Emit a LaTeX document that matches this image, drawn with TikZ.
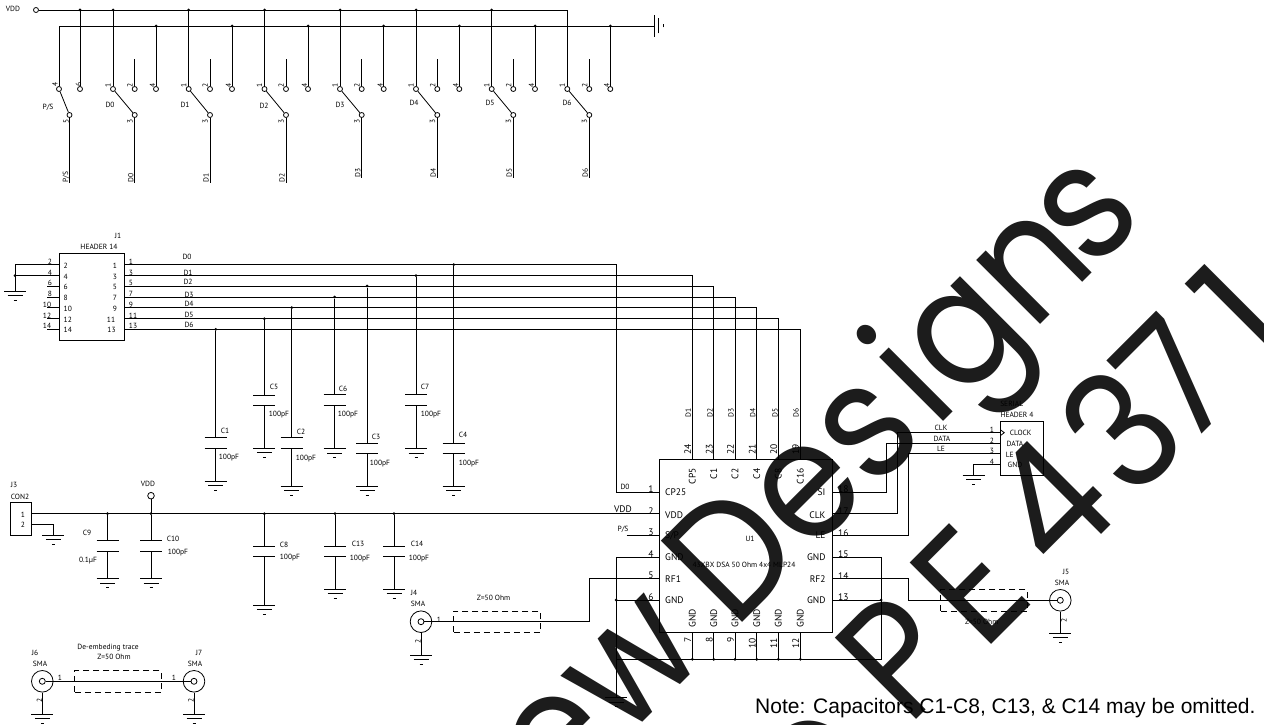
\documentclass[tikz,border=0pt]{standalone}
\usepackage{fontspec}
\setmainfont{PT Sans}
\newfontfamily\notefont{Liberation Sans}
\newfontfamily\markfont[FakeStretch=0.9]{Poppins}
\definecolor{markgray}{RGB}{28,28,28}
\tikzset{
  wire/.style={line width=0.8pt},
  pad/.style={circle, draw, line width=0.8pt, fill=white, inner sep=0pt, minimum size=5pt},
  jdot/.style={circle, fill, inner sep=0pt, minimum size=3pt},
  smaring/.style={circle, draw, line width=0.8pt, inner sep=0pt, minimum size=21.6pt},
  partbox/.style={draw, line width=0.8pt, inner sep=0pt},
  tracebox/.style={draw, dashed, dash pattern=on 6pt off 4pt, line width=0.7pt, inner sep=0pt, minimum height=21.6pt, minimum width=86.5pt},
  lbl/.style={inner sep=0pt, font=\fontsize{7.5}{9}\selectfont},
  lblv/.style={lbl, rotate=90},
  pinlbl/.style={inner sep=0pt, font=\fontsize{9.5}{11}\selectfont},
  pinlblv/.style={pinlbl, rotate=90},
  bigmark/.style={inner sep=0pt, rotate=45, anchor=base west, text=markgray, font=\markfont\fontsize{165}{165}\selectfont},
  gndmark/.pic={
    \draw[wire] (-11,0) -- (11,0);
    \draw[wire] (-7.5,4.5) -- (7.5,4.5);
    \draw[wire] (-1.5,9) -- (1.5,9);
  }
}
\begin{document}
\begin{tikzpicture}[x=1pt, y=-1pt]
  \useasboundingbox (0,0) rectangle (1264,725);
  \begin{scope}
    \clip (0,0) rectangle (1264,725);
    \node[bigmark, anchor=base east] (mark1) at (710,655) {New};
    \node[bigmark] (mark2) at (734,631) {Des};
    \node[bigmark] (mark3) at (741,624) {\phantom{Des}ign};
    \node[bigmark] (mark4) at (734,631) {\phantom{Design}s};
    \node[bigmark, anchor=base] (mark5) at (846,798) {o};
    \foreach \t/\x/\y in {P/908.5/727.5, E/983.8/652.2, 4/1058.4/577.6, 3/1132.7/503.4, 7/1187.8/448.2, 1/1265.8/372.2}
      \node[bigmark] (part\t) at (\x,\y) {\t};
  \end{scope}

  % switches
  \node[lbl] (vddtop) at (13,9) {VDD};
  \node[pad] (vddin) at (36,10) {};
  \coordinate (vddend) at (567.3,10);
  \coordinate (gndstart) at (59,26);
  \coordinate (gndend) at (654,26);
  \draw[wire] (vddin) -- (vddend);
  \draw[wire] (gndstart) -- (gndend);
  \pic[rotate=90] at (gndend) {gndmark};

  \node[pad] (apsw) at (59,89) {};
  \node[pad] (bpsw) at (80,89) {};
  \node[pad] (tpsw) at (69.5,115) {};
  \coordinate (vpsw) at (80,10);
  \coordinate (epsw) at (69.5,183);
  \draw[wire] (apsw) -- (gndstart);
  \draw[wire] (bpsw) -- (vpsw);
  \draw[wire] (apsw) -- (tpsw);
  \draw[wire] (tpsw) -- (epsw);
  \node[jdot] (dpsw) at (vpsw) {};
  \node[lblv] (n4psw) at (55,84) {4};
  \node[lblv] (n6psw) at (78.5,84) {6};
  \node[lblv] (n5psw) at (66,121) {5};
  \node[lblv] (lpsw) at (66,177) {P/S};
  \node[lbl] (tpsl) at (48,107) {P/S};

  \foreach \n/\xa/\xb/\xc/\ye/\xl/\yl in {0/113/134.7/156/183/110/105,
      1/188.7/210/232/183/185/105, 2/264.5/286/308/183/264/106,
      3/340/361.7/383.7/178/340/105, 4/416/437.3/459.3/178/414/103,
      5/491.7/513.3/535/178/490/103, 6/567.3/589.3/610.3/178/567/103} {
    \node[pad] (a\n) at (\xa,89) {};
    \node[pad] (b\n) at (\xb,89) {};
    \node[pad] (k\n) at (\xc,89) {};
    \node[pad] (t\n) at (\xb,115) {};
    \coordinate (va\n) at (\xa,10);
    \coordinate (vb\n) at (\xb,59);
    \coordinate (vc\n) at (\xc,26);
    \coordinate (e\n) at (\xb,\ye);
    \draw[wire] (a\n) -- (va\n);
    \draw[wire] (b\n) -- (vb\n);
    \draw[wire] (k\n) -- (vc\n);
    \draw[wire] (a\n) -- (t\n);
    \draw[wire] (t\n) -- (e\n);
    \node[jdot] (dk\n) at (vc\n) {};
    \node[lblv] (na\n) at (\xa-5,85) {1};
    \node[lblv] (nb\n) at (\xb-4.7,85) {2};
    \node[lblv] (nc\n) at (\xc-3.5,85) {4};
    \node[lblv] (nt\n) at (\xb-4.7,121) {3};
    \node[lbl] (ls\n) at (\xl,\yl) {D\n};
    \node[lblv] (lb\n) at (\xb-4,\ye-5) {D\n};
  }
  \foreach \n in {0,...,5}
    \node[jdot] (dv\n) at (va\n) {};

  % header and rails
  \node[partbox, minimum width=65pt, minimum height=87pt] (j1) at (91.5,296.5) {};
  \node[lbl] (j1name) at (118,236) {J1};
  \node[lbl] (j1part) at (99,247) {HEADER 14};
  \foreach \n/\y/\xo in {2/264.7/50, 4/275.7/50, 6/286/50, 8/297/50, 10/307.7/47, 12/318.7/47, 14/329.3/47} {
    \coordinate (hl\n) at (59,\y);
    \coordinate (hs\n) at (47,\y);
    \draw[wire] (hl\n) -- (hs\n);
    \node[lbl] (hlo\n) at (\xo,\y-3) {\n};
    \node[lbl, anchor=west] (hli\n) at (63.5,\y+1) {\n};
  }
  \foreach \n/\y/\xi/\xo in {1/264.7/115/131, 3/275.7/115/131, 5/286/115/131, 7/297/115/131,
      9/307.7/115/131, 11/318.7/111/133, 13/329.3/111.5/133} {
    \coordinate (hr\n) at (124,\y);
    \node[lbl] (hro\n) at (\xo,\y-3) {\n};
    \node[lbl] (hri\n) at (\xi,\y+1) {\n};
  }
  \coordinate (hgtop) at (15,264.7);
  \coordinate (hgmid) at (15,275.7);
  \coordinate (hgnd) at (15,291);
  \draw[wire] (hs2) -- (hgtop) -- (hgnd);
  \draw[wire] (hs4) -- (hgmid);
  \node[jdot] (hgdot) at (hgmid) {};
  \pic at (hgnd) {gndmark};
  \foreach \t/\x/\y in {D0/187/257, D1/188/272.5, D2/188/282, D3/189/294.5, D4/189/304, D5/189/315, D6/189/325}
    \node[lbl] (r\t) at (\x,\y) {\t};

  % chip
  \node[partbox, minimum width=173.4pt, minimum height=173.4pt] (u1) at (746,546) {};
  \foreach \n/\y in {1/492, 2/513.7, 3/535.7, 4/557, 5/578.7, 6/600} {
    \coordinate (ul\n) at (659.3,\y);
    \node[pinlbl] (uln\n) at (651,\y-3) {\n};
  }
  \foreach \n/\y in {18/492, 17/513.7, 16/535.7, 15/557, 14/578.7, 13/600} {
    \coordinate (ur\n) at (832.7,\y);
    \node[pinlbl] (urn\n) at (843.3,\y-3) {\n};
  }
  \foreach \n/\x/\t in {24/692.3/CP5, 23/713.7/C1, 22/735/C2, 21/756.7/C4, 20/778.3/C8, 19/800.3/C16} {
    \coordinate (ut\n) at (\x,459.3);
    \node[pinlblv] (utn\n) at (\x-4.5,449) {\n};
    \node[pinlblv, anchor=east] (utl\n) at (\x,468.3) {\t};
  }
  \foreach \n/\x/\yn in {7/692.3/640, 8/713.7/640, 9/735/640, 10/756.7/643, 11/778.3/643, 12/800.3/643} {
    \coordinate (ub\n) at (\x,632.7);
    \coordinate (ug\n) at (\x,659.3);
    \draw[wire] (ub\n) -- (ug\n);
    \node[jdot] (ugd\n) at (ug\n) {};
    \node[pinlblv] (ubn\n) at (\x-4.5,\yn) {\n};
    \node[pinlblv] (ubl\n) at (\x,618) {GND};
  }
  \foreach \t/\y [count=\i] in {CP25/492.5, VDD/515, GND/557, RF1/579, GND/600}
    \node[pinlbl, anchor=west] (ulb\i) at (665,\y) {\t};
  \node[pinlbl, anchor=west] (ulbsp) at (665,535.5) {S/P};
  \foreach \t/\y [count=\i] in {SI/492.5, CLK/515, LE/535.5, GND/557, RF2/579, GND/600}
    \node[pinlbl, anchor=east] (urb\i) at (825.7,\y) {\t};
  \node[lbl] (u1name) at (750,539) {U1};
  \node[lbl] (u1part) at (744,565) {43XBX DSA 50 Ohm 4x4 MLP24};

  \coordinate (bend0) at (616,264.7);
  \draw[wire] (hr1) -- (bend0) |- (ul1);
  \draw[wire] (hr3) -| (ut24);
  \draw[wire] (hr5) -| (ut23);
  \draw[wire] (hr7) -| (ut22);
  \draw[wire] (hr9) -| (ut21);
  \draw[wire] (hr11) -| (ut20);
  \draw[wire] (hr13) -| (ut19);
  \node[lbl] (d0pin) at (625,487) {D0};
  \foreach \t/\x in {D1/688.3, D2/710, D3/731, D4/752.7, D5/775, D6/796}
    \node[lblv] (v\t) at (\x,412.5) {\t};

  \coordinate (pslead) at (626.7,535.7);
  \draw[wire] (pslead) -- (ul3);
  \node[lbl] (pspin) at (623,529) {P/S};
  \node[pinlbl] (vddpin) at (623,509) {VDD};

  \coordinate (gleft) at (616,557);
  \coordinate (gbotl) at (616,659.3);
  \coordinate (gbotr) at (881,659.3);
  \coordinate (gright) at (881,557);
  \coordinate (gsix) at (616,600);
  \coordinate (gthirteen) at (881,600);
  \coordinate (gbot) at (616,697.7);
  \draw[wire] (ul4) -- (gleft) -- (gbot);
  \draw[wire] (gbotl) -- (gbotr) -- (gright) -- (ur15);
  \draw[wire] (ul6) -- (gsix);
  \draw[wire] (ur13) -- (gthirteen);
  \node[jdot] (gsixd) at (gsix) {};
  \node[jdot] (gthirteend) at (gthirteen) {};
  \pic at (gbot) {gndmark};

  % power connector
  \node[partbox, minimum width=21.7pt, minimum height=32.6pt] (j3) at (20.8,519) {};
  \node[lbl] (j3name) at (14,485) {J3};
  \node[lbl] (j3part) at (20,497) {CON2};
  \node[lbl] (j3n1) at (23,515) {1};
  \node[lbl] (j3n2) at (23,525) {2};
  \coordinate (j3p1) at (31.7,513.7);
  \coordinate (j3p2) at (31.7,524.7);
  \coordinate (j3g) at (53.3,535.3);
  \draw[wire] (j3p1) -- (ul2);
  \draw[wire] (j3p2) -| (j3g);
  \pic at (j3g) {gndmark};
  \node[pad, minimum size=6.6pt] (vddcap) at (151,495.7) {};
  \node[lbl] (vddcapl) at (148,484) {VDD};
  \coordinate (vddtap) at (151,513.7);
  \draw[wire] (vddcap) -- (vddtap);

  % capacitors
  \foreach \n/\x/\ytop/\ya/\yb/\yg/\xn/\yn/\xv/\yv/\val in {
      1/215.7/329.3/437.3/448.3/481/225/431/229/458/100pF,
      2/291.7/307.7/437.3/448.3/486/301/432/306/459/100pF,
      3/367/286/443.3/453.7/486/376/437/380/464/100pF,
      4/453.7/264.7/443.3/453.7/486/463/435/469/464/100pF,
      5/264.3/318.7/395/405.3/448.3/274/387/279/415/100pF,
      6/334.7/297/394.7/405.3/448.7/343/389/348/415/100pF,
      7/416/275.7/394.7/405.3/448.7/425/387/431/415/100pF,
      8/264.3/513.7/546.7/556.3/605.3/284/545/290/558/100pF,
      9/107.5/513.7/540.7/551.7/578.7/87/533/88/561/0.1µF,
      10/151/513.7/540.7/551.7/578.7/173/539/178/553/100pF,
      13/335/513.7/546.7/556.3/589.3/358/544/360/559/100pF,
      14/394/513.7/546.7/556.3/589.3/417/544/419/559/100pF} {
    \node[jdot] (cd\n) at (\x,\ytop) {};
    \coordinate (ca\n) at (\x,\ya);
    \coordinate (cb\n) at (\x,\yb);
    \coordinate (cg\n) at (\x,\yg);
    \draw[wire] (cd\n) -- (ca\n);
    \draw[wire] (cb\n) -- (cg\n);
    \draw[wire] ([xshift=-11pt]ca\n) -- ([xshift=11pt]ca\n);
    \draw[wire] ([xshift=-11pt]cb\n) -- ([xshift=11pt]cb\n);
    \pic at (cg\n) {gndmark};
    \node[lbl] (cn\n) at (\xn,\yn) {C\n};
    \node[lbl] (cv\n) at (\xv,\yv) {\val};
  }

  % serial header
  \node[partbox, minimum width=42.6pt, minimum height=53.3pt] (j2) at (1022,448.3) {};
  \node[lbl] (j2name) at (1011.7,404) {SERIAL};
  \node[lbl] (j2part) at (1017,415) {HEADER 4};
  \coordinate (jclk) at (1000.7,432.7);
  \coordinate (jdata) at (1000.7,443.3);
  \coordinate (jle) at (1000.7,453.3);
  \coordinate (jgnd) at (1000.7,464.7);
  \coordinate (jgnde) at (973.7,475.3);
  \draw[wire] (ur18) -| (886.7,443.3) -- (jdata);
  \draw[wire] (ur17) -| (897.7,432.7) -- (jclk);
  \draw[wire] (ur16) -| (908.7,453.3) -- (jle);
  \draw[wire] (jgnd) -| (jgnde);
  \pic at (jgnde) {gndmark};
  \draw[wire] (1000.7,430) -- (1004.3,432.7) -- (1000.7,435.4);
  \foreach \t/\x/\y [count=\i] in {CLOCK/1020.7/433, DATA/1015/444, LE/1009.7/455, GND/1015/465, CLK/941/428, DATA/942/439, LE/941/449}
    \node[lbl] (jl\i) at (\x,\y) {\t};
  \foreach \n/\y in {1/430, 2/441, 3/451, 4/462}
    \node[lbl] (jn\n) at (992,\y) {\n};

  % connectors and traces
  \node[smaring] (j4) at (421,621.7) {};
  \node[pad, minimum size=6pt] (j4in) at (421,621.7) {};
  \coordinate (j4bend) at (589,621.7);
  \coordinate (j4g) at (421,655);
  \draw[wire] (j4in) -- (j4bend) |- (ul5);
  \draw[wire] (j4) -- (j4g);
  \pic at (j4g) {gndmark};
  \node[tracebox] (tr4) at (497,621.7) {};

  \node[smaring] (j5) at (1060.3,600.3) {};
  \node[pad, minimum size=6pt] (j5in) at (1060.3,600.3) {};
  \coordinate (j5bend) at (908.7,600.3);
  \coordinate (j5g) at (1060.3,633.3);
  \draw[wire] (j5in) -- (j5bend) |- (ur14);
  \draw[wire] (j5) -- (j5g);
  \pic at (j5g) {gndmark};
  \node[tracebox] (tr5) at (984,600.3) {};

  \node[smaring] (j6) at (42.3,681.3) {};
  \node[pad, minimum size=6pt] (j6in) at (42.3,681.3) {};
  \node[smaring] (j7) at (194,681.3) {};
  \node[pad, minimum size=6pt] (j7in) at (194,681.3) {};
  \coordinate (j6g) at (42.3,714.3);
  \coordinate (j7g) at (194,714.3);
  \draw[wire] (j6in) -- (j7in);
  \draw[wire] (j6) -- (j6g);
  \draw[wire] (j7) -- (j7g);
  \pic at (j6g) {gndmark};
  \pic at (j7g) {gndmark};
  \node[tracebox] (tr6) at (118,681.3) {};

  \foreach \t/\x/\y [count=\i] in {J4/414/592.7, SMA/418/604.3, 1/439/620, Z=50 Ohm/493.5/598.3,
      J5/1066/572, SMA/1062/583, Z=50 Ohm/981.7/622.3,
      J6/35/653.3, SMA/40/664.3, J7/199/653.3, SMA/195/664.3,
      De-embeding trace/108/647.3, Z=50 Ohm/114/657.3, 1/60/678, 1/174/678}
    \node[lbl] (cl\i) at (\x,\y) {\t};
  \foreach \x/\y [count=\i] in {418/641.3, 1064/620, 39.5/700.7, 191/700.7}
    \node[lblv] (sn\i) at (\x,\y) {2};

  \node[anchor=west, inner sep=0pt, font=\notefont\fontsize{21}{24}\selectfont] (note) at (755,708) {Note: Capacitors C1-C8, C13, \& C14 may be omitted.};
\end{tikzpicture}
\end{document}
